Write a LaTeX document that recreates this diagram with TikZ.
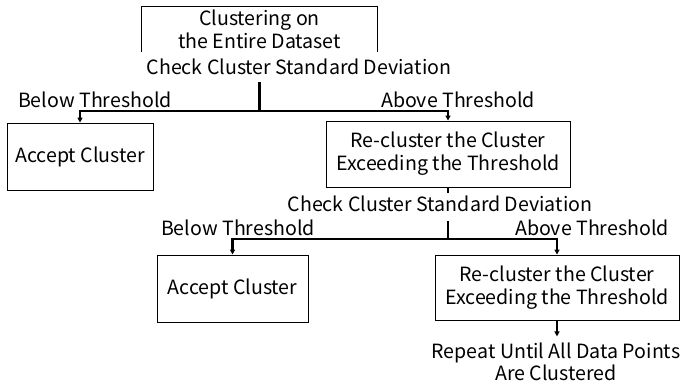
\documentclass[tikz,border=0pt]{standalone}
\usepackage{fontspec}
\setmainfont{Noto Sans CJK JP}
\usetikzlibrary{positioning, arrows.meta, calc}
\definecolor{boxcol}{RGB}{0,0,0}
\definecolor{linkcol}{RGB}{0,0,0}

\begin{document}
\begin{tikzpicture}[
			x=1pt,
			y=-1pt,
			font=\fontsize{19.6}{23}\selectfont,
			stepbox/.style={
				draw=boxcol,
				rectangle,
				line width=0.9pt,
				align=center,
				inner sep=0pt
			},
			tag/.style={
				align=center,
				inner sep=1pt
			},
			link/.style={
				draw=linkcol,
				line width=2.2pt
			},
			arr/.style={
				link,
				-{Triangle[length=5pt,width=5pt]}
			}
			]
			\useasboundingbox (0,0) rectangle (683,390);
			
			% Boxes
			\node[stepbox, draw=none, minimum width=235pt, minimum height=45pt] (entire) at (259.5,29.5) {Clustering on\\the Entire Dataset};
			\draw[boxcol, line width=0.9pt] (entire.south west) -- (entire.north west) -- (entire.north east) -- (entire.south east);
			\node[stepbox, minimum width=146pt, minimum height=67pt] (accA) at (80,156.5) {Accept Cluster};
			\node[stepbox, minimum width=244pt, minimum height=66pt] (reA) at (448,154) {Re-cluster the Cluster\\Exceeding the Threshold};
			\node[stepbox, minimum width=151pt, minimum height=67pt] (accB) at (232.5,288.5) {Accept Cluster};
			\node[stepbox, minimum width=244pt, minimum height=65pt] (reB) at (557,287.5) {Re-cluster the Cluster\\Exceeding the Threshold};
			
			% Labels
			\node[tag] (checkA) at (299,67) {Check Cluster Standard Deviation};
			\node[tag] (belowA) at (95,100) {Below Threshold};
			\node[tag] (aboveA) at (458,100) {Above Threshold};
			\node[tag] (checkB) at (440,204) {Check Cluster Standard Deviation};
			\node[tag] (belowB) at (238,228) {Below Threshold};
			\node[tag] (aboveB) at (592,228) {Above Threshold};
			\node[tag, font=\fontsize{19.6}{22}\selectfont] (repeat) at (556,362) {Repeat Until All Data Points\\Are Clustered};
			
			% Branch points
			\coordinate (splitA) at (entire.south |- 0,111);
			\coordinate (splitB) at (reA.south |- 0,239);
			
			% Links
			\draw[link] (entire.south |- 0,82) -- (splitA);
			\draw[arr] (splitA) -| (accA.north);
			\draw[arr] (splitA) -| (reA.north);
			\draw[link] (reA.south) -- ++(0,6);
			\draw[link] (reA.south |- 0,221) -- (splitB);
			\draw[arr] (splitB) -| (accB.north);
			\draw[arr] (splitB) -| (reB.north);
			\draw[arr] (reB.south) -- ++(0,16);
		\end{tikzpicture}
\end{document}
